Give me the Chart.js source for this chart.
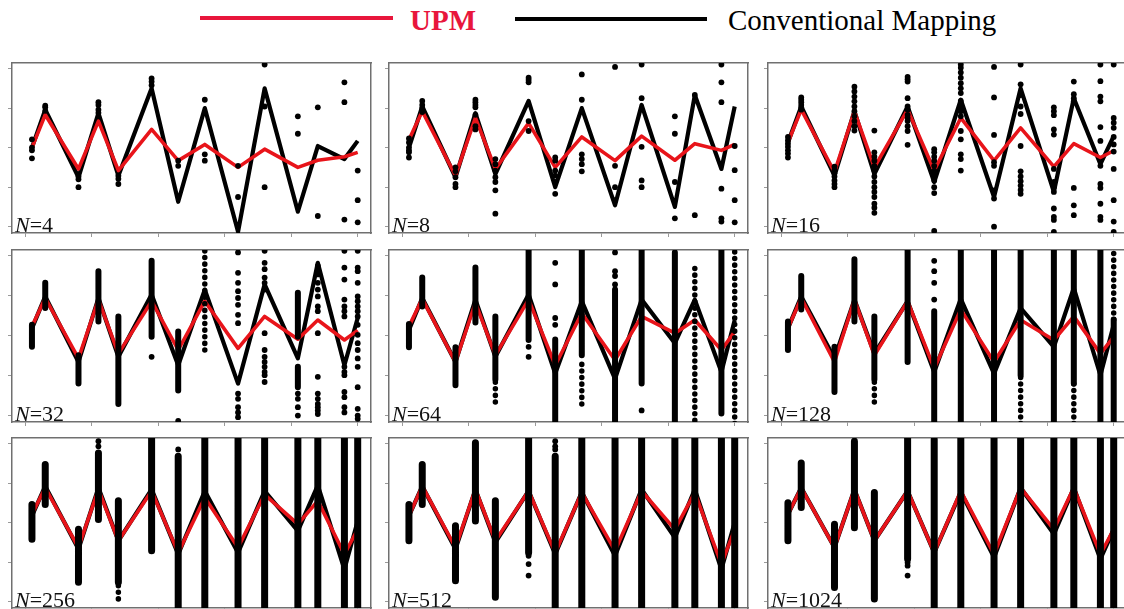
<!DOCTYPE html>
<html><head><meta charset="utf-8">
<script src="https://cdn.jsdelivr.net/npm/chart.js@4.4.1/dist/chart.umd.min.js"></script>
<style>
html,body{margin:0;padding:0;background:#fff;width:1124px;height:609px;overflow:hidden;position:relative;font-family:'Liberation Serif','Times New Roman',serif;}
.abs{position:absolute;white-space:nowrap;}
canvas{position:absolute;}
.lab{position:absolute;font-size:22px;line-height:22px;color:#111;white-space:nowrap;}
</style></head><body>
<div class="abs" style="left:200px;top:16px;width:193px;height:4px;background:#e8163c"></div>
<div class="abs" style="left:410px;top:6px;font-size:29px;line-height:29px;font-weight:bold;color:#e8163c">UPM</div>
<div class="abs" style="left:515px;top:17px;width:192px;height:4px;background:#000"></div>
<div class="abs" style="left:728px;top:6px;font-size:29px;line-height:29px;color:#000">Conventional Mapping</div>
<script>
// ---------- data ----------
const sampleCounts = [4, 8, 16, 32, 64, 128, 256, 512, 1024];
const X = [0.1, 0.3, 0.8, 1.1, 1.4, 1.9, 2.3, 2.7, 3.2, 3.6, 4.1, 4.4, 4.8, 5.0];
const xTickValues = [0, 1, 2, 3, 4, 5];
const yTickValues = [0, 1, 2, 3, 4];

const upm4 = [2.0, 2.83, 1.46, 2.67, 1.42, 2.46, 1.67, 2.08, 1.5, 1.96, 1.5, 1.68, 1.77, 1.88];
const conv4 = [2.0, 2.96, 1.25, 2.87, 1.29, 3.5, 0.63, 3.0, -0.13, 3.5, 0.38, 2.04, 1.71, 2.17];
const upm8 = [2.2, 2.92, 1.29, 2.75, 1.46, 2.62, 1.5, 2.27, 1.67, 2.29, 1.68, 2.1, 1.93, 2.08];
const conv8 = [2.0, 3.04, 1.25, 2.87, 1.33, 3.18, 1.0, 3.0, 0.54, 3.08, 0.5, 3.33, 1.46, 3.04];
const upm16 = [2.13, 2.96, 1.38, 2.92, 1.5, 2.96, 1.42, 2.75, 1.67, 2.5, 1.52, 2.1, 1.75, 1.92];
const conv16 = [2.13, 3.04, 1.29, 2.92, 1.33, 3.04, 1.13, 3.21, 0.75, 3.5, 0.88, 3.25, 1.58, 2.29];
const upm32 = [2.23, 2.94, 1.43, 2.9, 1.55, 2.86, 1.64, 2.86, 1.68, 2.48, 1.91, 2.39, 1.89, 2.13];
const conv32 = [2.18, 2.98, 1.34, 2.94, 1.47, 3.03, 1.26, 3.15, 0.8, 3.28, 1.43, 3.82, 1.26, 2.44];
const upm64 = [2.23, 2.92, 1.34, 2.82, 1.51, 2.9, 1.26, 2.56, 1.39, 2.48, 2.06, 2.39, 1.64, 2.1];
const conv64 = [2.14, 2.94, 1.34, 2.9, 1.47, 3.03, 1.05, 2.86, 0.92, 2.9, 1.81, 2.9, 1.09, 2.39];
const upm128 = [2.18, 2.94, 1.34, 2.9, 1.51, 2.86, 1.18, 2.65, 1.34, 2.39, 1.89, 2.48, 1.55, 1.97];
const conv128 = [2.18, 2.98, 1.43, 2.9, 1.55, 2.86, 1.09, 2.92, 1.05, 2.69, 1.72, 3.19, 1.01, 2.27];
const upm256 = [2.21, 2.88, 1.37, 2.84, 1.54, 2.8, 1.24, 2.63, 1.37, 2.71, 1.96, 2.55, 1.2, 1.83];
const conv256 = [2.17, 2.92, 1.33, 2.88, 1.54, 2.84, 1.2, 2.8, 1.24, 2.8, 1.79, 2.94, 0.82, 2.04];
const upm512 = [2.17, 2.92, 1.37, 2.84, 1.54, 2.8, 1.24, 2.76, 1.29, 2.8, 1.83, 2.76, 0.95, 1.83];
const conv512 = [2.17, 2.92, 1.33, 2.84, 1.5, 2.8, 1.2, 2.77, 1.16, 2.84, 1.62, 2.84, 0.82, 2.0];
const upm1024 = [2.21, 2.88, 1.37, 2.84, 1.54, 2.8, 1.24, 2.8, 1.2, 2.88, 1.83, 2.88, 1.2, 1.83];
const conv1024 = [2.21, 2.88, 1.37, 2.84, 1.54, 2.8, 1.24, 2.77, 1.12, 2.88, 1.71, 2.88, 1.08, 1.83];

// individual samples: one list of values per sample position
const dots4 = [[2.21,2.0,1.93,1.73],[3.06,3.02,2.93],[1.27,1.2,1.0],[3.15,3.08,2.96,2.88],[1.29,1.21,1.08],[3.75,3.67,3.58],[1.67,1.54],[3.21,1.83,1.67],[1.54,0.75],[4.1,3.04,1.0],[2.79,2.35],[3.02,0.27],[3.65,3.15,0.18],[1.42,0.67,0.11]];
const dots8 = [[2.23,2.13,2.0,1.93,1.88,1.75],[3.18,3.08,3.0,2.93,2.9],[1.5,1.4,1.25,1.08,1.0],[3.21,3.15,3.08,3.02,2.83,2.54,2.46],[1.71,1.58,1.42,1.25,1.13,0.92,0.33],[3.77,3.71,3.65,2.67,2.42],[1.75,1.67,1.42,1.29,1.13,0.83],[3.85,3.21,1.83,1.71,1.58,1.4],[4.04,1.54,1.0,0.67],[4.1,3.25,2.02,1.17,1.0],[2.79,2.35,1.13,0.21],[3.33,0.29],[4.1,3.65,3.15,0.96,0.21,0.13],[2.04,1.43,0.67,0.11]];
const dots16 = [[2.27,2.18,2.1,2.02,1.93,1.85,1.75],[3.27,3.21,3.15,3.08,3.02,2.96],[1.52,1.43,1.35,1.27,1.17,1.08,1.0],[3.54,3.42,3.29,3.17,3.04,2.92,2.79,2.67,2.54,2.43],[2.43,1.88,1.77,1.67,1.54,1.42,1.27,1.13,1.0,0.88,0.75,0.58,0.48,0.35],[3.79,3.73,3.67,3.25,3.04,2.96,2.83,2.75,2.67,2.54,2.42,2.07],[1.96,1.88,1.77,1.67,1.54,1.42,1.29,1.17,1.0,0.85,-0.11],[4.1,4.02,3.9,3.77,3.63,3.5,3.38,3.18,3.04,2.92,2.79,2.42,2.21,1.83,1.71,1.42],[4.04,3.27,2.32,1.63,1.54,0.92,0.71,0.0],[4.1,3.6,3.33,3.04,2.85,2.04,1.4,1.27,1.15,1.04,0.93,0.83],[3.02,2.92,2.82,2.46,2.33,1.46,1.13,1.0,0.88,0.46,0.25,0.17,-0.13],[3.67,3.35,3.25,3.17,0.98,0.54,0.29],[4.1,3.68,3.29,3.17,2.52,2.17,1.54,1.08,0.98,0.58,0.25,0.17],[4.1,2.75,2.63,2.5,2.27,2.08,1.9,1.46,0.67,0.13,-0.13]];
const dots32 = [[],[],[],[],[],[1.47],[-0.13],[],[4.08,3.57,3.32,3.11,2.94,2.77,2.52,2.31,0.55,0.42,0.21,0.08,-0.04],[4.12,3.82,3.66,3.45,3.32,3.15,2.06,1.64,1.47,1.34,1.22,1.09,1.01,0.84],[0.55,0.42,0.21,0.0],[3.74,3.53,3.32,3.15,2.98,2.73,2.61,2.06,0.97,0.55,0.42,0.29,0.21,0.13,0.04],[4.12,3.7,3.4,2.9,2.73,2.61,2.48,1.22,1.09,1.01,0.59,0.46,0.21,0.08],[4.12,3.7,3.61,3.32,2.98,2.86,2.73,2.61,2.48,2.27,2.02,1.81,1.64,1.43,1.22,0.71,0.17,0.0,-0.08]];
const dots64 = [[],[],[],[],[],[1.72,1.47],[3.82,3.28,2.44,2.27],[],[4.08,3.61,3.49,3.28],[0.13],[],[],[],[]];
const dots128 = [[],[],[],[],[],[],[3.87,3.61,3.32,2.9],[],[],[],[],[],[],[]];
const dots256 = [[],[],[],[4.06,3.93],[],[],[3.85],[],[],[],[],[],[],[]];
const dots512 = [[],[],[],[],[],[1.16,0.95,0.66],[4.06,3.93,3.85],[],[],[],[],[],[],[]];
const dots1024 = [[],[],[],[],[],[0.99,0.91,0.66],[],[],[],[],[],[],[],[]];

// packed runs of samples: [position index, low, high]
const packed4 = [], packed8 = [], packed16 = [];
const packed32 = [[0,1.72,2.27],[1,2.69,3.32],[2,0.8,1.51],[3,2.35,3.61],[4,0.29,2.48],[5,1.97,3.87],[6,0.63,2.1],[10,1.97,3.07],[10,0.71,1.22]];
const packed64 = [[0,1.71,2.29],[1,2.73,3.45],[2,0.76,1.71],[3,2.33,3.7],[4,0.9,2.48],[5,1.89,4.2],[6,-0.2,1.9],[7,1.51,4.2],[8,-0.2,3.15],[9,0.8,4.2],[10,-0.2,4.08],[12,0.05,4.2]];
const packed128 = [[0,1.64,2.35],[1,2.65,3.49],[2,0.59,1.72],[3,2.35,3.91],[4,0.9,2.48],[5,1.34,4.2],[6,-0.2,2.61],[7,-0.2,4.2],[8,-0.2,4.2],[9,1.0,4.2],[10,-0.2,4.2],[11,0.8,4.2],[12,-0.2,4.2],[13,-0.2,2.4]];
const packed256 = [[0,1.58,2.46],[1,2.46,3.47],[2,0.49,1.83],[3,2.08,3.76],[4,0.49,2.55],[5,1.29,4.2],[6,-0.2,3.68],[7,-0.2,4.2],[8,-0.2,4.2],[9,-0.2,4.2],[10,-0.2,4.2],[11,-0.2,4.2],[12,-0.2,4.2],[13,-0.2,4.2]];
const packed512 = [[0,1.54,2.46],[1,2.46,3.47],[2,0.53,1.92],[3,2.04,4.02],[4,0.11,2.55],[5,1.24,4.2],[6,-0.2,3.68],[7,-0.2,4.2],[8,-0.2,4.2],[9,-0.2,4.2],[10,-0.2,4.2],[11,-0.2,4.2],[12,-0.2,4.2],[13,-0.2,4.2]];
const packed1024 = [[0,1.54,2.5],[1,2.38,3.51],[2,0.36,1.96],[3,1.87,4.06],[4,0.07,2.76],[5,1.08,4.2],[6,-0.2,4.1],[7,-0.2,4.2],[8,-0.2,4.2],[9,-0.2,4.2],[10,-0.2,4.2],[11,-0.2,4.2],[12,-0.2,4.2],[13,-0.2,4.2]];
// loosely spaced runs of samples: [position index, low, high]
const spaced4 = [], spaced8 = [], spaced16 = [];
const spaced32 = [[7,1.64,4.12]];
const spaced64 = [[4,0.34,0.9],[7,0.29,1.4],[11,-0.12,3.82],[13,-0.2,4.2]];
const spaced128 = [[4,0.34,0.9],[9,-0.2,1.0],[11,-0.2,0.8],[13,2.4,4.2]];
const spaced256 = [[4,0.07,0.49]];
const spaced512 = [];
const spaced1024 = [];

// ---------- build ----------
const panelData = [
  [upm4, conv4, dots4, packed4, spaced4],
  [upm8, conv8, dots8, packed8, spaced8],
  [upm16, conv16, dots16, packed16, spaced16],
  [upm32, conv32, dots32, packed32, spaced32],
  [upm64, conv64, dots64, packed64, spaced64],
  [upm128, conv128, dots128, packed128, spaced128],
  [upm256, conv256, dots256, packed256, spaced256],
  [upm512, conv512, dots512, packed512, spaced512],
  [upm1024, conv1024, dots1024, packed1024, spaced1024]
];

const RED = 'rgb(232,20,26)';
const frameX = [12, 389, 768], frameY = [62, 249, 437], frameH = [171, 173, 171], frameW = 360;

function linePts(v) { return v.map((y, i) => ({x: X[i], y})); }
function dotPts(cols) { const d = []; cols.forEach((ys, ci) => ys.forEach(y => d.push({x: X[ci], y}))); return d; }
function runPts(runs) { const d = []; runs.forEach(([ci, lo, hi]) => { d.push({x: X[ci], y: lo}, {x: X[ci], y: hi}, {x: X[ci], y: null}); }); return d; }

function axis(pos, min, max, ticks, drawTicks) {
  return {
    type: 'linear', position: pos, min, max, display: true,
    afterBuildTicks: s => { s.ticks = drawTicks ? ticks.map(v => ({value: v})) : []; },
    ticks: {display: false},
    grid: {display: drawTicks, drawOnChartArea: false, drawTicks: drawTicks, tickLength: 4, color: '#9a9a9a', lineWidth: 1},
    border: {display: true, color: '#707070', width: 1.5}
  };
}

panelData.forEach((p, i) => {
  const [upm, conv, dots, packed, spaced] = p;
  const r = Math.floor(i / 3), c = i % 3;
  const fx = frameX[c], fy = frameY[r], fh = frameH[r], fw = frameW;
  const cv = document.createElement('canvas');
  cv.width = fw + 9; cv.height = fh + 9;
  cv.style.left = (fx - 6) + 'px'; cv.style.top = (fy - 3) + 'px';
  cv.style.width = cv.width + 'px'; cv.style.height = cv.height + 'px';
  document.body.appendChild(cv);
  const packWidth = sampleCounts[i] >= 256 ? 7 : 6;

  new Chart(cv, {
    type: 'line',
    data: {
      datasets: [
        {label: 'samples', data: dotPts(dots), showLine: false, pointRadius: 2.9, pointBackgroundColor: '#000', pointBorderWidth: 0, order: 0},
        {label: 'packed', data: runPts(packed), borderColor: '#000', borderWidth: packWidth, borderCapStyle: 'round', pointRadius: 0, spanGaps: false, order: 1},
        {label: 'spaced', data: runPts(spaced), borderColor: '#000', borderWidth: 5.5, borderCapStyle: 'round', borderDash: [0.1, 6.5], pointRadius: 0, spanGaps: false, order: 2},
        {label: 'UPM', data: linePts(upm), borderColor: RED, borderWidth: 3.6, borderJoinStyle: 'round', pointRadius: 0, tension: 0, order: 3},
        {label: 'Conventional Mapping', data: linePts(conv), borderColor: '#000', borderWidth: 4.2, borderJoinStyle: 'round', pointRadius: 0, tension: 0, order: 4}
      ]
    },
    options: {
      responsive: false, animation: false, devicePixelRatio: 1, events: [],
      layout: {padding: {left: 2, bottom: 2, top: 3, right: 3}},
      plugins: {legend: {display: false}, tooltip: {enabled: false}},
      scales: {
        x: axis('bottom', -0.2, 5.2, xTickValues, true),
        y: axis('left', -0.16, 4.14, yTickValues, true),
        x2: axis('top', -0.2, 5.2, [], false),
        y2: axis('right', -0.16, 4.14, [], false)
      }
    }
  });

  const lab = document.createElement('div');
  lab.className = 'lab';
  lab.innerHTML = '<i>N</i>=' + sampleCounts[i];
  lab.style.left = (fx + 3) + 'px';
  lab.style.top = (fy + fh - 19) + 'px';
  document.body.appendChild(lab);
});
</script>
</body></html>
